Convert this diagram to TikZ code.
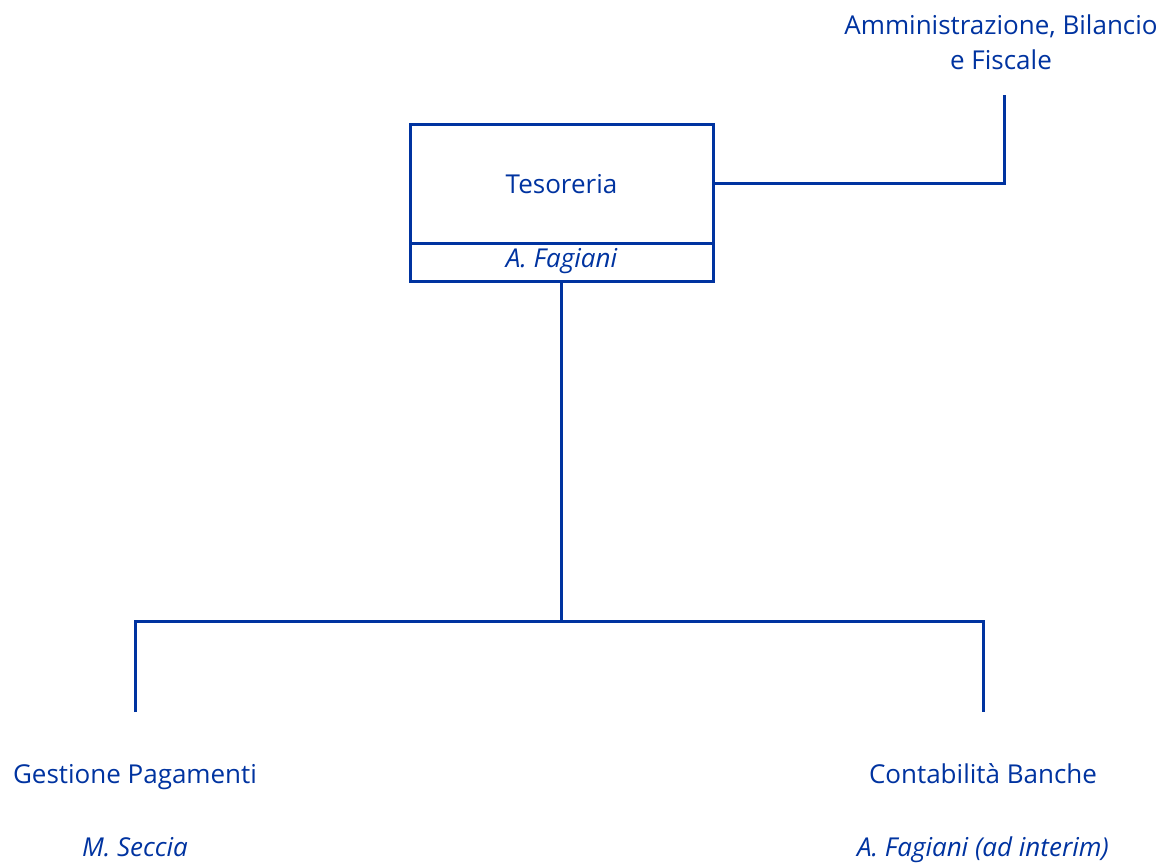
\documentclass[tikz,border=0pt]{standalone}
\usepackage{fontspec}
\setmainfont{Open Sans}
\definecolor{ubi}{RGB}{0,51,160}
\begin{document}
\begin{tikzpicture}[x=1pt,y=-1pt,
  every node/.style={text=ubi,font=\fontsize{26}{35.5}\selectfont,inner sep=0pt},
  conn/.style={draw=ubi,line width=3pt},
  boxpart/.style={draw=ubi,line width=3pt,minimum width=303pt},
  lbl/.style={anchor=base,align=center},
  who/.style={anchor=base,font=\fontsize{26}{35.5}\selectfont\itshape}]
\useasboundingbox (0,0) rectangle (1163,865);
% Tesoreria box
\node[boxpart,minimum height=119pt] (tes) at (561.5,183.5) {};
\node[boxpart,minimum height=38pt] (tesname) at (561.5,262) {};
\node[lbl] (testxt) at (561.5,193) {Tesoreria};
\node[who] (tesw) at (561.5,267) {A. Fagiani};
% parent
\node[lbl] (amm) at (1001,69.5) {Amministrazione, Bilancio\\e Fiscale};
\coordinate (ammtop) at (1004,95);
\draw[conn] (tes.east) -| (ammtop);
% children
\coordinate (bus) at (561.5,621);
\coordinate (c1) at (135,712);
\coordinate (c2) at (983,712);
\draw[conn] (tesname.south) -- (bus);
\draw[conn] (c1) |- (bus) -| (c2);
\node[lbl] (gp) at (135,783) {Gestione Pagamenti};
\node[who] (gpw) at (135,856) {M. Seccia};
\node[lbl] (cb) at (983,783) {Contabilità Banche};
\node[who] (cbw) at (983,856) {A. Fagiani (ad interim)};
\end{tikzpicture}
\end{document}
